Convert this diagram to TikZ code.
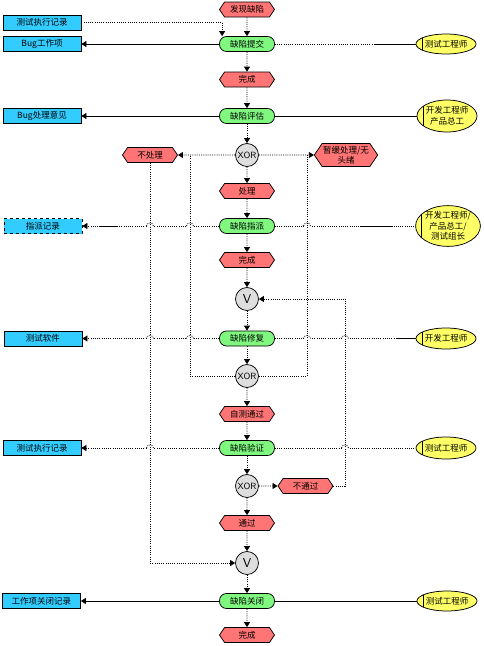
\documentclass[tikz,border=0pt]{standalone}
\usepackage{fontspec}
\setmainfont{Noto Sans CJK SC}
\usepackage{tikz}
\usetikzlibrary{arrows.meta,calc,shapes.geometric,shapes.symbols}

\definecolor{evred}{HTML}{FF7474}
\definecolor{fngreen}{HTML}{80F880}
\definecolor{docblue}{HTML}{33CCFF}
\definecolor{orgyellow}{HTML}{FFFF66}
\definecolor{opgray}{HTML}{DEDEDE}

% small hop where a line passes over another
\newcommand\hop[2]{%
  \fill[white] (#1-3.5,#2-1) rectangle (#1+3.5,#2+1);
  \draw[link] (#1-3.5,#2) .. controls (#1-3,#2-4) and (#1+3,#2-4) .. (#1+3.5,#2);}

\begin{document}
\begin{tikzpicture}[x=1pt,y=-1pt,inner sep=1pt,line width=0.75pt,
  font=\fontsize{8.5}{10.5}\selectfont,
  ev/.style={draw,signal,signal to=west and east,signal pointer angle=112,
    fill=evred,minimum width=55pt,minimum height=15pt,inner sep=1pt,align=center},
  fn/.style={draw,rounded corners=7pt,fill=fngreen,minimum width=55pt,minimum height=15pt},
  doc/.style={draw,fill=docblue,minimum width=78pt,minimum height=15pt},
  org/.style={draw,ellipse,fill=orgyellow,minimum width=56pt,minimum height=20pt,
    inner sep=0pt,align=center,
    path picture={\draw ([xshift=6pt]path picture bounding box.north west)
      -- ([xshift=6pt]path picture bounding box.south west);}},
  op/.style={draw,circle,fill=opgray,minimum size=23pt,inner sep=0pt,
    font=\fontsize{9}{9}\sffamily},
  link/.style={dash pattern=on 1pt off 1.2pt},
  flow/.style={link,-{Triangle[length=5pt,width=6pt]}},
  feed/.style={-{Triangle[length=5pt,width=6pt]}}]
\useasboundingbox (0,0) rectangle (484,646);

% process chain
\node[ev] (e0) at (247,9.5) {发现缺陷};
\node[fn] (f1) at (247,44) {缺陷提交};
\node[ev] (e1) at (247,79.5) {完成};
\node[fn] (f2) at (247,116) {缺陷评估};
\node[op] (x1) at (247,155) {XOR};
\node[ev] (e2) at (247,191) {处理};
\node[fn] (f3) at (247,226) {缺陷指派};
\node[ev] (e3) at (247,260) {完成};
\node[op,font=\fontsize{13}{13}\sffamily] (v1) at (247,299) {V};
\node[fn] (f4) at (247,338.5) {缺陷修复};
\node[op] (x2) at (247,376) {XOR};
\node[ev] (e4) at (247,414) {自测通过};
\node[fn] (f5) at (247,448) {缺陷验证};
\node[op] (x3) at (247,486) {XOR};
\node[ev] (e5) at (247,523) {通过};
\node[op,font=\fontsize{13}{13}\sffamily] (v2) at (247,563) {V};
\node[fn] (f6) at (247,601) {缺陷关闭};
\node[ev] (e6) at (247,635) {完成};

% side events
\node[ev] (enp) at (150,155) {不处理};
\node[ev,minimum height=23pt] (ew) at (346,155) {暂缓处理/无\\头绪};
\node[ev] (enf) at (305.5,486) {不通过};

% documents
\node[doc] (d0) at (42,22.5) {测试执行记录};
\node[doc] (d1) at (42,44) {Bug工作项};
\node[doc] (d2) at (42,116) {Bug处理意见};
\node[doc,dashed] (d3) at (43,226) {指派记录};
\node[doc] (d4) at (43,338.5) {测试软件};
\node[doc] (d5) at (42,448) {测试执行记录};
\node[doc] (d6) at (41.5,601) {工作项关闭记录};

% roles
\node[org] (o1) at (446,44) {测试工程师};
\node[org,minimum width=60pt,minimum height=32pt] (o2) at (447,116) {开发工程师\\产品总工};
\node[org,minimum width=57pt,minimum height=35pt] (o3) at (448,226) {开发工程师/\\产品总工/\\测试组长};
\node[org,minimum height=21pt] (o4) at (446,338.5) {开发工程师};
\node[org,minimum height=22pt] (o5) at (446,448) {测试工程师};
\node[org] (o6) at (447,601) {测试工程师};

\coordinate (jl) at (190,155);
\coordinate (jr) at (307,155);
\coordinate (c1) at (375,44);
\coordinate (c2a) at (100,226);
\coordinate (c2b) at (118,226);
\coordinate (c3a) at (360,226);
\coordinate (c3b) at (393,226);
\coordinate (c4) at (397,338.5);

% main flow
\draw[flow] (e0) -- (f1);
\draw[flow] (f1) -- (e1);
\draw[flow] (e1) -- (f2);
\draw[flow] (f2) -- (x1);
\draw[flow] (x1) -- (e2);
\draw[flow] (e2) -- (f3);
\draw[flow] (f3) -- (e3);
\draw[flow] (e3) -- (v1);
\draw[flow] (v1) -- (f4);
\draw[flow] (f4) -- (x2);
\draw[flow] (x2) -- (e4);
\draw[flow] (e4) -- (f5);
\draw[flow] (f5) -- (x3);
\draw[flow] (x3) -- (e5);
\draw[flow] (e5) -- (v2);
\draw[flow] (v2) -- (f6);
\draw[flow] (f6) -- (e6);

% documents
\draw[flow] (d0.east) -| ([xshift=3pt]f1.north west);
\draw[feed] (f1.west) -- (d1.east);
\draw[feed] (f2.west) -- (d2.east);
\draw[flow] (f3.west) -- (d3.east);
\draw (c2a) -- (c2b);
\draw[flow] (f4.west) -- (d4.east);
\draw[flow] (f5.west) -- (d5.east);
\draw[feed] (f6.west) -- (d6.east);

% roles
\draw[link] (f1.east) -- (c1);
\draw (c1) -- (o1.west);
\draw (f2.east) -- (o2.west);
\draw[link] (f3.east) -- (o3.west);
\draw (c3a) -- (c3b);
\draw[link] (f4.east) -- (c4);
\draw (c4) -- (o4.west);
\draw[link] (f5.east) -- (o5.west);
\draw (f6.east) -- (o6.west);

\hop{150}{226} \hop{190}{226} \hop{307}{226}
\hop{150}{338.5} \hop{190}{338.5} \hop{307}{338.5} \hop{345}{338.5}
\hop{150}{448} \hop{345}{448}

% branches
\draw[flow] (x1) -- (enp);
\draw[flow] (x1) -- (ew);
\draw[link] (x2) -| (jl);
\draw[link] (x2) -| (jr);
\draw[flow] (enp) |- (v2);
\draw[flow] (x3) -- (enf);
\draw[flow] (enf.east) -- ++(12,0) |- (v1);

\end{tikzpicture}
\end{document}
